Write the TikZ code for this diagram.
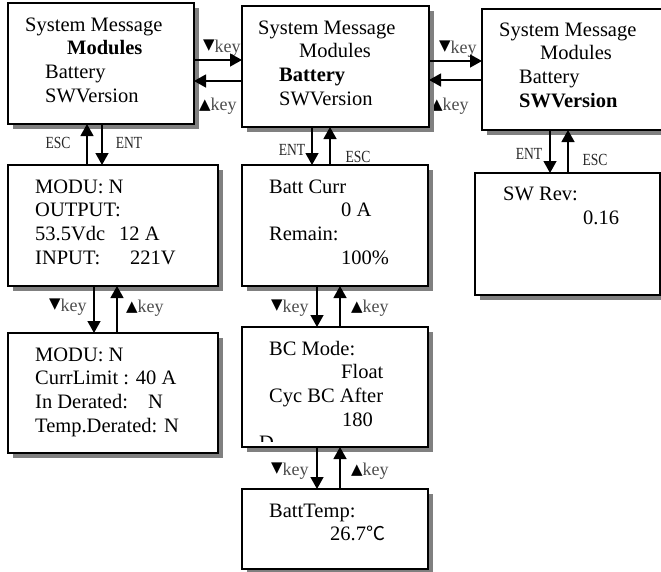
\documentclass[tikz,border=0pt]{standalone}
\usepackage{graphicx}
\usepackage{fontspec}
\setmainfont{Liberation Serif}
\newfontfamily\symfont{DejaVu Sans}
\newfontfamily\cjkfont{Noto Sans CJK SC}
\usetikzlibrary{arrows.meta,shadows,calc}

% one text line of a screen, placed by its baseline
\newcommand\scrline[4]{\node[txt] (#1) at (#2,-#3) {#4};}
\newcommand\trdn{{\symfont\fontsize{15}{16}\selectfont\raisebox{3pt}{▼}}}
\newcommand\trup{{\symfont\fontsize{15}{16}\selectfont\raisebox{0.5pt}{▲}}}
\newcommand\keyword{\textcolor{black!70}{key}}
\newcommand\narrow[1]{\scalebox{0.8}[1]{#1}}

\tikzset{
  screen/.style={draw=black, line width=1.5pt, fill=white, anchor=north west,
    inner sep=0pt, outer sep=0pt,
    drop shadow={shadow xshift=4.5pt, shadow yshift=-4.5pt, fill=black!50, opacity=1}},
  txt/.style={anchor=base west, inner sep=0pt, font=\fontsize{20.5}{24}\selectfont},
  keylbl/.style={anchor=base west, inner sep=0pt, font=\fontsize{18}{20}\selectfont},
  esclbl/.style={inner sep=0pt, text=black!85, font=\fontsize{17}{18}\selectfont},
  arr/.style={line width=1.3pt, -{Triangle[length=12pt,width=13pt]}},
}

\begin{document}
\begin{tikzpicture}[x=1pt,y=1pt]
\useasboundingbox (0,0) rectangle (661,-571);
\clip (0,0) rectangle (661,-571);

% key labels beside the arrows
\node[keylbl] (k12d) at (203,-52) {\trdn\keyword};
\node[keylbl] (k12u) at (199,-110) {\trup\keyword};
\node[keylbl] (k23d) at (439,-53) {\trdn\keyword};
\node[keylbl] (k23u) at (431,-110) {\trup\keyword};
\node[keylbl] (k45d) at (49,-311) {\trdn\keyword};
\node[keylbl] (k45u) at (126,-312) {\trup\keyword};
\node[keylbl] (k67d) at (271,-312) {\trdn\keyword};
\node[keylbl] (k67u) at (351,-312) {\trup\keyword};
\node[keylbl] (k78d) at (271,-475) {\trdn\keyword};
\node[keylbl] (k78u) at (351,-475) {\trup\keyword};

\node[esclbl] (e14a) at (58,-143) {\narrow{ESC}};
\node[esclbl] (e14b) at (129,-143) {\narrow{ENT}};
\node[esclbl] (e26a) at (292,-150) {\narrow{ENT}};
\node[esclbl] (e26b) at (358,-157) {\narrow{ESC}};
\node[esclbl] (e3sa) at (529,-154) {\narrow{ENT}};
\node[esclbl] (e3sb) at (595,-160) {\narrow{ESC}};

% screens
\node[screen, minimum width=186pt, minimum height=121pt] (b1) at (8,-3) {};
\node[screen, minimum width=187pt, minimum height=121pt] (b2) at (242,-6) {};
\node[screen, minimum width=190pt, minimum height=121pt] (b3) at (482,-9) {};
\node[screen, minimum width=185pt, minimum height=122pt] (b3s) at (475,-173) {};
\node[screen, minimum width=210pt, minimum height=121pt] (b4) at (8,-165) {};
\node[screen, minimum width=210pt, minimum height=120pt] (b5) at (8,-333) {};
\node[screen, minimum width=186pt, minimum height=121pt] (b6) at (242,-165) {};
\node[screen, minimum width=186pt, minimum height=120pt] (b7) at (242,-327) {};
\node[screen, minimum width=186pt, minimum height=80pt] (b8) at (242,-489) {};

% main menu, three states
\scrline{b1a}{25}{31}{System Message}
\scrline{b1b}{67}{54.7}{\textbf{Modules}}
\scrline{b1c}{45}{78.4}{Battery}
\scrline{b1d}{45}{102.1}{SWVersion}

\scrline{b2a}{258}{34}{System Message}
\scrline{b2b}{299}{57.7}{Modules}
\scrline{b2c}{279}{81.4}{\textbf{Battery}}
\scrline{b2d}{279}{105.1}{SWVersion}

\scrline{b3a}{499}{36}{System Message}
\scrline{b3b}{540}{59.7}{Modules}
\scrline{b3c}{519}{83.4}{Battery}
\scrline{b3d}{519}{107.1}{\textbf{SWVersion}}

% software version
\scrline{b3sa}{503}{200}{SW Rev:}
\scrline{b3sb}{583}{224}{0.16}

% module pages
\scrline{b4a}{35}{193}{MODU: N}
\scrline{b4b}{35}{216.7}{OUTPUT:}
\scrline{b4c}{35}{240.4}{\makebox[84pt][l]{53.5Vdc}12 A}
\scrline{b4d}{35}{264.1}{\makebox[95pt][l]{INPUT:}221V}

\scrline{b5a}{35}{361}{MODU: N}
\scrline{b5b}{35}{384.7}{CurrLimit : 40 A}
\scrline{b5c}{35}{408.4}{\makebox[113pt][l]{In Derated:}N}
\scrline{b5d}{35}{432.1}{Temp.Derated: N}

% battery pages
\scrline{b6a}{269}{193}{Batt Curr}
\scrline{b6b}{341}{216.7}{0 A}
\scrline{b6c}{269}{240.4}{Remain:}
\scrline{b6d}{341}{264.1}{100\%}

\scrline{b7a}{269}{355}{BC Mode:}
\scrline{b7b}{341}{378.7}{Float}
\scrline{b7c}{269}{402.4}{Cyc BC After}
\scrline{b7d}{342}{426.1}{180}
\begin{scope}
  \clip (242,-327) rectangle (428,-441);
  \scrline{b7e}{259}{449.8}{D}
\end{scope}

\scrline{b8a}{269}{517}{BattTemp:}
\scrline{b8b}{330}{540.7}{26.7{\cjkfont\fontsize{19}{24}\selectfont ℃}}

% navigation arrows
\coordinate (r12) at (0,-60);  \coordinate (l12) at (0,-81);
\coordinate (r23) at (0,-61);  \coordinate (l23) at (0,-80);
\draw[arr] (b1.east |- r12) -- (b2.west |- r12);
\draw[arr] (b2.west |- l12) -- (b1.east |- l12);
\draw[arr] (b2.east |- r23) -- (b3.west |- r23);
\draw[arr] (b3.west |- l23) -- (b2.east |- l23);

\coordinate (u14) at (87,0);   \coordinate (d14) at (102,0);
\coordinate (d26) at (312,0);  \coordinate (u26) at (330,0);
\coordinate (d3s) at (550,0);  \coordinate (u3s) at (568,0);
\coordinate (d45) at (94,0);   \coordinate (u45) at (117,0);
\coordinate (d67) at (317,0);  \coordinate (u67) at (340,0);

\draw[arr] (b1.south -| d14) -- (b4.north -| d14);
\draw[arr] (b4.north -| u14) -- (b1.south -| u14);
\draw[arr] (b2.south -| d26) -- (b6.north -| d26);
\draw[arr] (b6.north -| u26) -- (b2.south -| u26);
\draw[arr] (b3.south -| d3s) -- (b3s.north -| d3s);
\draw[arr] (b3s.north -| u3s) -- (b3.south -| u3s);
\draw[arr] (b4.south -| d45) -- (b5.north -| d45);
\draw[arr] (b5.north -| u45) -- (b4.south -| u45);
\draw[arr] (b6.south -| d67) -- (b7.north -| d67);
\draw[arr] (b7.north -| u67) -- (b6.south -| u67);
\draw[arr] (b7.south -| d67) -- (b8.north -| d67);
\draw[arr] (b8.north -| u67) -- (b7.south -| u67);
\end{tikzpicture}
\end{document}
